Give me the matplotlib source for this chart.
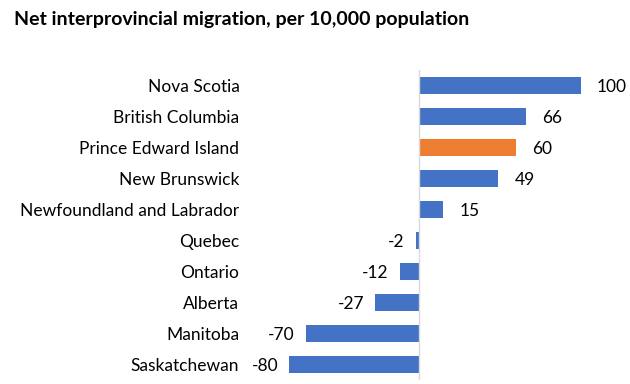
import matplotlib.pyplot as plt

# Data
provinces = ['Nova Scotia', 'British Columbia', 'Prince Edward Island', 'New Brunswick',
             'Newfoundland and Labrador', 'Quebec', 'Ontario', 'Alberta', 'Manitoba', 'Saskatchewan']
net_migration = [100, 66, 60, 49, 15, -2, -12, -27, -70, -80]
highlight = 'Prince Edward Island'

blue = '#4472C4'
orange = '#ED7D31'

plt.rcParams['font.family'] = ['Lato', 'DejaVu Sans']

fig = plt.figure(figsize=(6.3, 3.84), dpi=100)
ax = fig.add_axes([289.4 / 630, 4 / 384, 291.6 / 630, 310 / 384])

colors = [orange if p == highlight else blue for p in provinces]
ypos = list(range(len(provinces)))
ax.barh(ypos, net_migration, height=0.55, color=colors)

ax.set_xlim(-80, 100)
ax.set_ylim(len(provinces) - 0.5, -0.5)
ax.axvline(0, color='#D9D9D9', linewidth=1)

ax.set_yticks(ypos)
ax.set_yticklabels(provinces, fontsize=12.5, va='center_baseline')
ax.tick_params(axis='y', length=0, pad=36)
ax.set_xticks([])
for s in ax.spines.values():
    s.set_visible(False)

# Value labels
for y, v in zip(ypos, net_migration):
    if v >= 0:
        ax.annotate(str(v), (v, y), xytext=(11.5, 0), textcoords='offset points',
                    ha='left', va='center_baseline', fontsize=12.5)
    else:
        ax.annotate(str(v), (v, y), xytext=(-8, 0), textcoords='offset points',
                    ha='right', va='center_baseline', fontsize=12.5)

fig.text(14 / 630, 1 - 19 / 384, 'Net interprovincial migration, per 10,000 population',
         fontsize=14, fontweight='bold', va='center', ha='left')

fig.savefig('out.png', dpi=100)
